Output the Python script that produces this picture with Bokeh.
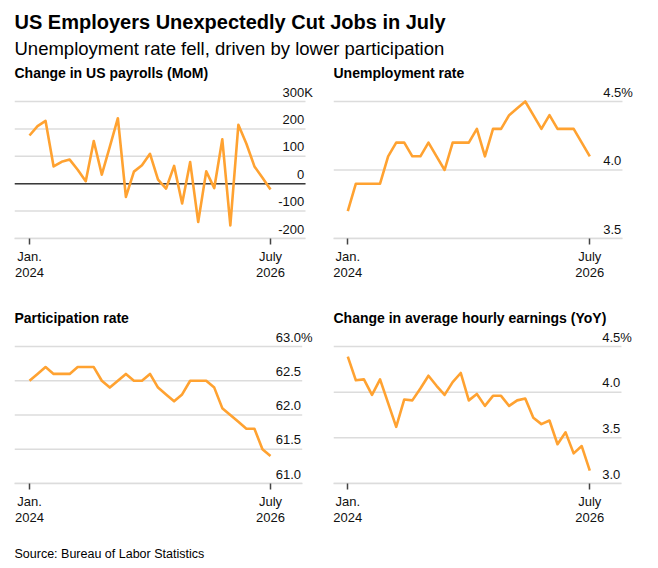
from bokeh.plotting import figure
from bokeh.models import Range1d, FixedTicker, ColumnDataSource, LabelSet
from bokeh.layouts import column, row
from bokeh.core.properties import value
from bokeh.embed import file_html
from bokeh.resources import INLINE

# ---------------- data ----------------
months = list(range(31))  # Jan 2024 .. Jul 2026
x_tick_positions = [0, 30]
x_tick_labels = ["Jan.\n2024", "July\n2026"]

payrolls = [176, 210, 229, 63, 80, 88, 51, 9, 156, 33, 135, 239, -48, 44, 67, 109,
            15, -18, 65, -72, 79, -140, 45, -16, 162, -152, 215, 146, 63, 22, -21]
payroll_ticks = [-200, -100, 0, 100, 200, 300]
payroll_labels = ["-200", "-100", "0", "100", "200", "300"]
payroll_suffix = "K"

unemployment = [3.7, 3.9, 3.9, 3.9, 3.9, 4.1, 4.2, 4.2, 4.1, 4.1, 4.2, 4.1, 4.0, 4.2, 4.2, 4.2,
                4.3, 4.1, 4.3, 4.3, 4.4, 4.45, 4.5, 4.4, 4.3, 4.4, 4.3, 4.3, 4.3, 4.2, 4.1]
unemp_ticks = [3.5, 4.0, 4.5]
unemp_labels = ["3.5", "4.0", "4.5"]

participation = [62.5, 62.6, 62.7, 62.6, 62.6, 62.6, 62.7, 62.7, 62.7, 62.5, 62.4, 62.5, 62.6, 62.5, 62.5, 62.6,
                 62.4, 62.3, 62.2, 62.3, 62.5, 62.5, 62.5, 62.4, 62.1, 62.0, 61.9, 61.8, 61.8, 61.5, 61.4]
part_ticks = [61.0, 61.5, 62.0, 62.5, 63.0]
part_labels = ["61.0", "61.5", "62.0", "62.5", "63.0"]

earnings = [4.39, 4.13, 4.14, 3.97, 4.14, 3.88, 3.62, 3.92, 3.91, 4.04, 4.18, 4.07, 3.97, 4.11, 4.21, 3.91,
            3.98, 3.85, 3.96, 3.96, 3.85, 3.91, 3.93, 3.72, 3.65, 3.69, 3.43, 3.56, 3.33, 3.41, 3.14]
earn_ticks = [3.0, 3.5, 4.0, 4.5]
earn_labels = ["3.0", "3.5", "4.0", "4.5"]
pct_suffix = "%"

title = "US Employers Unexpectedly Cut Jobs in July"
subtitle = "Unemployment rate fell, driven by lower participation"
panel_titles = ["Change in US payrolls (MoM)", "Unemployment rate",
                "Participation rate", "Change in average hourly earnings (YoY)"]
source_note = "Source: Bureau of Labor Statistics"

# ---------------- style ----------------
FONT = "Liberation Sans"
ORANGE = "#FFA231"
GRID = "#dcdcdc"
TEXT = "#111111"
W = 658
HALF = 329


def text_fig(height, items):
    p = figure(width=W, height=height, x_range=Range1d(0, W), y_range=Range1d(height, 0),
               output_backend="svg", toolbar_location=None, min_border=0,
               x_axis_location=None, y_axis_location=None)
    p.grid.visible = False
    p.outline_line_color = None
    for (x, y, txt, size, bold) in items:
        p.text(x=[x], y=[y], text=[txt], text_font=value(FONT), text_font_size=f"{size}px",
               text_font_style="bold" if bold else "normal", text_baseline="alphabetic",
               text_align="left", text_color="#000000")
    return p


def panel(vals, yticks, ylabels, suffix, x_start, grid_end, x_end, mb_left, mb_right,
          height, mb_bottom, zero=False):
    y_lo, y_hi = yticks[0], yticks[-1]
    y_end = y_hi + 17 * (y_hi - y_lo) / 137
    p = figure(width=HALF, height=height, x_range=Range1d(x_start, x_end), y_range=Range1d(y_lo, y_end),
               output_backend="svg", toolbar_location=None,
               min_border_left=mb_left, min_border_right=mb_right, min_border_top=0,
               min_border_bottom=mb_bottom, y_axis_location=None)
    p.outline_line_color = None
    p.grid.visible = False

    n = len(yticks)
    p.segment(x0=[x_start] * n, x1=[grid_end] * n, y0=yticks, y1=yticks,
              line_color=GRID, line_width=1.5)
    if zero:
        p.segment(x0=[x_start], x1=[grid_end], y0=[0], y1=[0], line_color="#3a3a3a", line_width=1.5)
    p.line(months, vals, line_color=ORANGE, line_width=2.6, line_join="round")

    lx = grid_end - 0.15
    src = ColumnDataSource(dict(x=[lx] * n, y=yticks, t=ylabels))
    p.add_layout(LabelSet(x="x", y="y", text="t", source=src, text_align="right",
                          text_baseline="alphabetic", y_offset=5, text_font=value(FONT),
                          text_font_size="13px", text_color=TEXT))
    src2 = ColumnDataSource(dict(x=[lx], y=[yticks[-1]], t=[suffix]))
    p.add_layout(LabelSet(x="x", y="y", text="t", source=src2, text_align="left",
                          text_baseline="alphabetic", y_offset=5, text_font=value(FONT),
                          text_font_size="13px", text_color=TEXT))

    ax = p.xaxis[0]
    ax.ticker = FixedTicker(ticks=x_tick_positions)
    ax.major_label_overrides = dict(zip(x_tick_positions, x_tick_labels))
    ax.bounds = (x_start, grid_end)
    ax.axis_line_color = GRID
    ax.axis_line_width = 1.5
    ax.major_tick_line_color = "#444444"
    ax.major_tick_line_width = 1.5
    ax.major_tick_in = 0
    ax.major_tick_out = 6
    ax.minor_tick_line_color = None
    ax.major_label_standoff = 4
    ax.major_label_text_font = FONT
    ax.major_label_text_font_size = "13px"
    ax.major_label_text_color = TEXT
    ax.major_label_text_line_height = 1.1
    return p


header = text_fig(84, [
    (14, 21.5, title, 20, True),
    (14, 47.8, subtitle, 18.5, False),
    (14, 72.8, panel_titles[0], 14, True),
    (333, 72.8, panel_titles[1], 14, True),
])
p1 = panel(payrolls, payroll_ticks, payroll_labels, payroll_suffix,
           -1.867, 34.357, 35.85, 14, 12, 206, 52, zero=True)
p2 = panel(unemployment, unemp_ticks, unemp_labels, pct_suffix,
           -1.773, 34.05, 35.54, 4, 24, 206, 52)
mid = text_fig(39, [
    (14, 27.2, panel_titles[2], 14, True),
    (333, 27.2, panel_titles[3], 14, True),
])
p3 = panel(participation, part_ticks, part_labels, pct_suffix,
           -1.867, 33.95, 35.48, 14, 15, 201, 47)
p4 = panel(earnings, earn_ticks, earn_labels, pct_suffix,
           -1.773, 33.93, 35.42, 4, 25, 201, 47)
footer = text_fig(36, [(14, 23.2, source_note, 12.5, False)])

layout = column(header, row(p1, p2), mid, row(p3, p4), footer)

open("out.html", "w").write(file_html(layout, INLINE))
